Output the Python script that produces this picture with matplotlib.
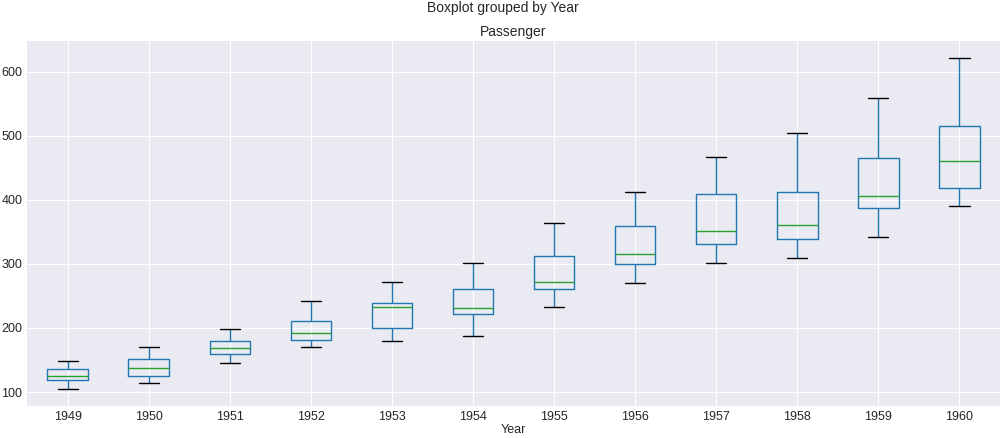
import matplotlib
matplotlib.use("Agg")
import matplotlib.pyplot as plt
import pandas as pd

plt.style.use("seaborn-v0_8-darkgrid")
plt.rcParams['font.family'] = ['Liberation Sans', 'DejaVu Sans']

# monthly passengers per year (thousands)
years = [1949, 1950, 1951, 1952, 1953, 1954, 1955, 1956, 1957, 1958, 1959, 1960]
p1949 = [112, 118, 132, 129, 121, 135, 148, 148, 136, 119, 104, 118]
p1950 = [115, 126, 141, 135, 125, 149, 170, 170, 158, 133, 114, 140]
p1951 = [145, 150, 178, 163, 172, 178, 199, 199, 184, 162, 146, 166]
p1952 = [171, 180, 193, 181, 183, 218, 230, 242, 209, 191, 172, 194]
p1953 = [196, 196, 236, 235, 229, 243, 264, 272, 237, 211, 180, 201]
p1954 = [204, 188, 235, 227, 234, 264, 302, 293, 259, 229, 203, 229]
p1955 = [242, 233, 267, 269, 270, 315, 364, 347, 312, 274, 237, 278]
p1956 = [284, 277, 317, 313, 318, 374, 413, 405, 355, 306, 271, 306]
p1957 = [315, 301, 356, 348, 355, 422, 465, 467, 404, 347, 305, 336]
p1958 = [340, 318, 362, 348, 363, 435, 491, 505, 404, 359, 310, 337]
p1959 = [360, 342, 406, 396, 420, 472, 548, 559, 463, 407, 362, 405]
p1960 = [417, 391, 419, 461, 472, 535, 622, 606, 508, 461, 390, 432]

values = [p1949, p1950, p1951, p1952, p1953, p1954, p1955, p1956,
          p1957, p1958, p1959, p1960]

df = pd.DataFrame({
    'Year': [y for y, v in zip(years, values) for _ in v],
    'Passenger': [x for v in values for x in v],
})

fig, ax = plt.subplots(figsize=(10.06, 4.38), dpi=100)
df.boxplot(column='Passenger', by='Year', ax=ax)

ax.set_title('Passenger', fontsize=10, y=1.0, pad=4)
ax.set_xlabel('Year', fontsize=9, labelpad=1)
ax.tick_params(labelsize=9)
fig.suptitle('Boxplot grouped by Year', fontsize=10, y=0.997)

fig.subplots_adjust(left=0.027, right=0.994, bottom=0.073, top=0.906)
fig.savefig('out.png', dpi=100)
